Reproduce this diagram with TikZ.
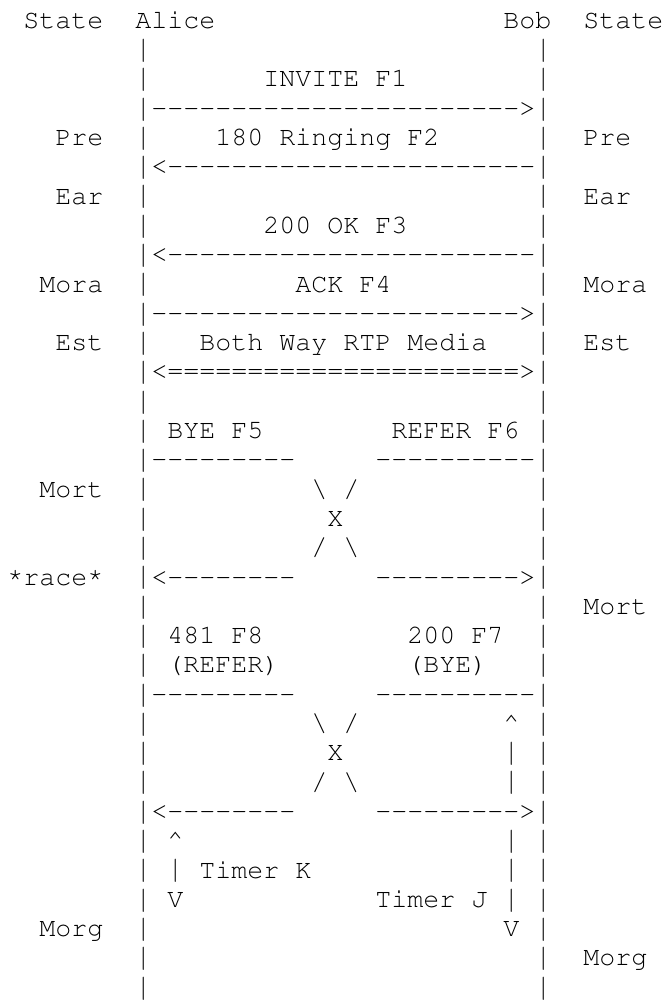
\documentclass[tikz,border=0pt]{standalone}
\usepackage[T1]{fontenc}
\usepackage{courier}
\tikzstyle{ascii} = [anchor=base west, inner sep=0pt, outer sep=0pt, font=\ttfamily\fontsize{20}{22}\selectfont]
\tikzstyle{lifeline} = [ascii]
% a run of single dashes (the braces keep them from joining into en dashes)
\newcommand{\dashrun}[1]{\foreach \i in {1,...,#1}{-}}
% taller bar, so that the bars of the rows nearly join
\newcommand{\vbar}{\raisebox{-0.03em}{\scalebox{1}[1.2]{|}}}
\newcommand{\raceast}{\raisebox{0.12em}{*}}

\begin{document}
\begin{tikzpicture}[x=12pt, y=-21.975pt]
\useasboundingbox (-0.456,-0.966) rectangle (41.044,33.198);
% Header
\node (stateA) [ascii] at (1,0) {State};
\node (alice) [ascii] at (8,0) {Alice};
\node (bob) [ascii] at (31,0) {Bob};
\node (stateB) [ascii] at (36,0) {State};

% Lifelines of Alice and Bob
\foreach \r in {1,...,33} {
  \node (la\r) [lifeline] at (8,\r) {\vbar};
  \node (lb\r) [lifeline] at (33,\r) {\vbar};
}

% Call setup
\node (invite) [ascii] at (16,2) {INVITE F1};
\node (f1) [ascii] at (9,3) {\dashrun{23}>};
\node (preA) [ascii] at (3,4) {Pre};
\node (ringing) [ascii] at (13,4) {180 Ringing F2};
\node (preB) [ascii] at (36,4) {Pre};
\node (f2) [ascii] at (9,5) {<\dashrun{23}};
\node (earA) [ascii] at (3,6) {Ear};
\node (earB) [ascii] at (36,6) {Ear};
\node (ok) [ascii] at (16,7) {200 OK F3};
\node (f3) [ascii] at (9,8) {<\dashrun{23}};
\node (moraA) [ascii] at (2,9) {Mora};
\node (ack) [ascii] at (18,9) {ACK F4};
\node (moraB) [ascii] at (36,9) {Mora};
\node (f4) [ascii] at (9,10) {\dashrun{23}>};
\node (estA) [ascii] at (3,11) {Est};
\node (media) [ascii] at (12,11) {Both Way RTP Media};
\node (estB) [ascii] at (36,11) {Est};
\node (rtp) [ascii] at (9,12) {<======================>};

% First crossing: BYE and REFER
\node (bye) [ascii] at (10,14) {BYE F5};
\node (refer) [ascii] at (24,14) {REFER F6};
\node (f5a) [ascii] at (9,15) {\dashrun{9}};
\node (f6a) [ascii] at (23,15) {\dashrun{10}};
\node (mortA) [ascii] at (2,16) {Mort};
\node (xa1) [ascii] at (19,16) {\textbackslash{} /};
\node (xa2) [ascii] at (20,17) {X};
\node (xa3) [ascii] at (19,18) {/ \textbackslash};
\node (race) [ascii] at (0,19) {\raceast race\raceast};
\node (f6b) [ascii] at (9,19) {<\dashrun{8}};
\node (f5b) [ascii] at (23,19) {\dashrun{9}>};
\node (mortB) [ascii] at (36,20) {Mort};

% Second crossing: 481 and 200
\node (r481) [ascii] at (10,21) {481 F8};
\node (r481b) [ascii] at (10,22) {(REFER)};
\node (r200) [ascii] at (25,21) {200 F7};
\node (r200b) [ascii] at (25,22) {(BYE)};
\node (f8a) [ascii] at (9,23) {\dashrun{9}};
\node (f7a) [ascii] at (23,23) {\dashrun{10}};
\node (xb1) [ascii] at (19,24) {\textbackslash{} /};
\node (xb2) [ascii] at (20,25) {X};
\node (xb3) [ascii] at (19,26) {/ \textbackslash};
\node (f8b) [ascii] at (9,27) {<\dashrun{8}};
\node (f7b) [ascii] at (23,27) {\dashrun{9}>};

% Timers
\node (tj1) [ascii] at (31,24) {\textasciicircum};
\node (tj2) [ascii] at (31,25) {\vbar};
\node (tj3) [ascii] at (31,26) {\vbar};
\node (tj4) [ascii] at (31,28) {\vbar};
\node (tj5) [ascii] at (31,29) {\vbar};
\node (tj6) [ascii] at (31,30) {\vbar};
\node (tj7) [ascii] at (31,31) {V};
\node (timerJ) [ascii] at (23,30) {Timer J};
\node (tk1) [ascii] at (10,28) {\textasciicircum};
\node (tk2) [ascii] at (10,29) {\vbar};
\node (tk3) [ascii] at (10,30) {V};
\node (timerK) [ascii] at (12,29) {Timer K};
\node (morgA) [ascii] at (2,31) {Morg};
\node (morgB) [ascii] at (36,32) {Morg};
\end{tikzpicture}
\end{document}
